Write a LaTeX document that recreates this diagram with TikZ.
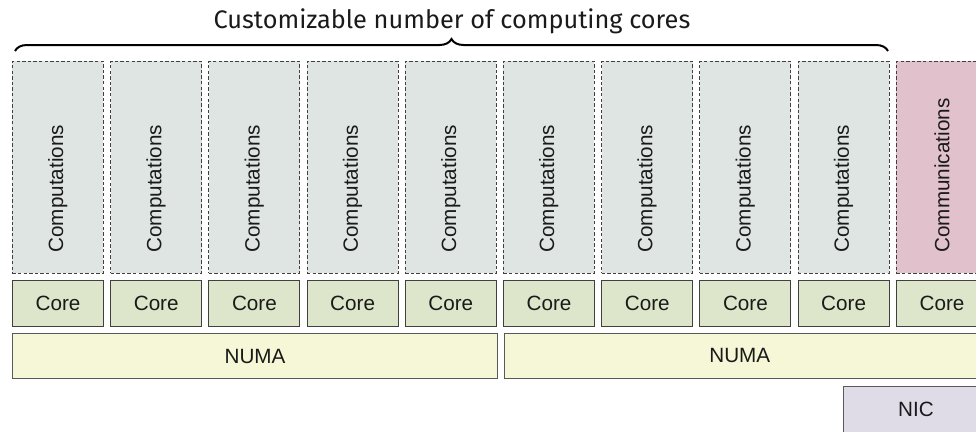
\documentclass[tikz,border=0pt]{standalone}
\usepackage{fontspec}
\setmainfont{Liberation Sans}
\newfontfamily\titlefont{Fira Sans}
\usetikzlibrary{decorations.pathreplacing}
\definecolor{compfill}{HTML}{DEE5E3}
\definecolor{commfill}{HTML}{E1C1CB}
\definecolor{corefill}{HTML}{DDE6CA}
\definecolor{numafill}{HTML}{F6F7D6}
\definecolor{nicfill}{HTML}{DFDCE8}
\definecolor{txt}{HTML}{1A1A1A}
\tikzset{
  box/.style={rectangle, inner sep=0pt, anchor=north west, text=txt, font=\fontsize{15.5}{18}\selectfont},
  compbox/.style={box, fill=compfill, draw=black!75, dash pattern=on 2.6pt off 1.6pt, line width=0.6pt},
  commbox/.style={compbox, fill=commfill},
  corebox/.style={box, fill=corefill, draw=black!75, line width=0.8pt},
  numabox/.style={box, fill=numafill, draw=black!65, line width=0.8pt},
  nicbox/.style={box, fill=nicfill, draw=black!65, line width=0.8pt},
  lbl/.style={text=txt, font=\fontsize{15.5}{18}\selectfont},
  rotlbl/.style={lbl, rotate=90, anchor=west, inner sep=0pt}
}
\begin{document}
\begin{tikzpicture}[x=0.75pt,y=-0.75pt]
\useasboundingbox (0,0) rectangle (976,432);
\clip (0,0) rectangle (976,432);
% computations + cores
\foreach \i in {0,...,8}{
  \pgfmathsetmacro{\xx}{12+98.2*\i}
  \node[compbox, minimum width=68.25pt, minimum height=159pt] (comp\i) at (\xx,61) {};
  \node[rotlbl] (compt\i) at ([yshift=15.75pt]comp\i.south) {Computations};
  \node[corebox, minimum width=68.25pt, minimum height=34.5pt] (core\i) at (\xx,280) {};
  \node[lbl] (coret\i) at (core\i.center) {Core};
}
\node[commbox, minimum width=68.25pt, minimum height=159pt] (comm) at (896,61) {};
\node[rotlbl] (commt) at ([yshift=15.75pt]comm.south) {Communications};
\node[corebox, minimum width=68.25pt, minimum height=34.5pt] (core9) at (896,280) {};
\node[lbl] (coret9) at (core9.center) {Core};
% NUMA
\node[numabox, minimum width=363.75pt, minimum height=33.75pt] (numa1) at (12,333) {NUMA};
\node[numabox, minimum width=363.75pt, minimum height=33.75pt] (numa2) at (503.5,333) {};
\node[lbl] (numa2t) at (739.75,355.5) {NUMA};
% NIC
\node[nicbox, minimum width=110pt, minimum height=34.5pt] (nic) at (843,386) {};
\node[lbl] (nict) at (916,409) {NIC};
% brace
\coordinate (bl) at (15,51);
\coordinate (br) at (888,51);
\draw[line width=1.5pt, decorate, decoration={brace, amplitude=9pt}] (bl) -- (br);
\node[font=\titlefont\fontsize{19}{22}\selectfont, text=txt] (title) at (452,21) {Customizable number of computing cores};
\end{tikzpicture}
\end{document}
